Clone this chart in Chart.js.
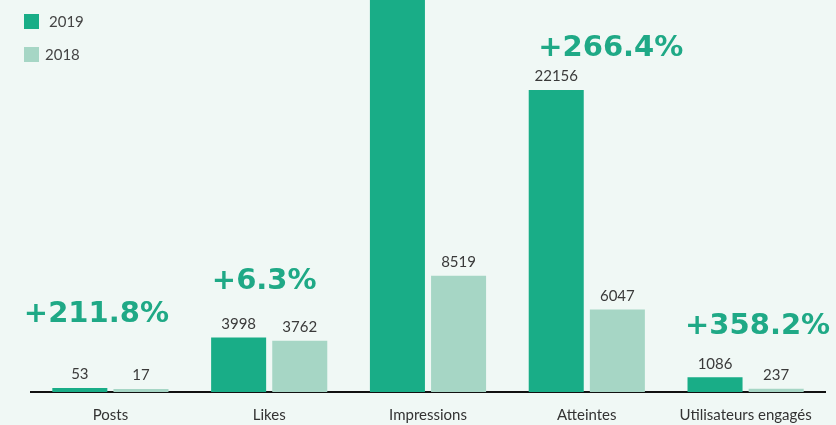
<!DOCTYPE html>
<html>
<head>
<meta charset="utf-8">
<script src="https://cdn.jsdelivr.net/npm/chart.js@4.4.1/dist/chart.umd.min.js"></script>
<style>
  html, body { margin: 0; padding: 0; background: #f0f8f5; }
  #wrap { position: relative; width: 836px; height: 425px; }
  .legend { position: absolute; left: 24px; font-family: Lato, sans-serif; font-size: 15px; color: #444; }
  .legend span.box { display: inline-block; width: 15px; height: 15px; vertical-align: middle; }
  .legend span.txt { vertical-align: middle; }
</style>
</head>
<body>
<div id="wrap">
  <canvas id="chart" width="836" height="425"></canvas>
  <div class="legend" style="top:10px"><span class="box" style="background:#19ad87"></span><span class="txt" style="margin-left:10px">2019</span></div>
  <div class="legend" style="top:43px"><span class="box" style="background:#a6d6c5"></span><span class="txt" style="margin-left:6px">2018</span></div>
</div>
<script>
// categories and values
var categories = ['Posts', 'Likes', 'Impressions', 'Atteintes', 'Utilisateurs engagés'];
var values2019 = [53, 3998, 31000, 22156, 1086];   // impressions 2019 is cut off at the top, estimated
var values2018 = [17, 3762, 8519, 6047, 237];
var growthLabels = ['+211.8%', '+6.3%', null, '+266.4%', '+358.2%'];

var DARK = '#19ad87';
var LIGHT = '#a6d6c5';

// value labels above each bar + growth % above each group
var labelsPlugin = {
    id: 'barLabels',
    afterDatasetsDraw: function(chart, args, opts) {
        var ctx = chart.ctx;
        var area = chart.chartArea;
        ctx.save();
        ctx.font = '15px Lato, sans-serif';
        ctx.fillStyle = '#3a3a3a';
        ctx.textAlign = 'center';
        ctx.textBaseline = 'bottom';
        chart.data.datasets.forEach(function(ds, i) {
            chart.getDatasetMeta(i).data.forEach(function(bar, j) {
                var y = bar.y - 6;
                if (y - 15 > area.top) ctx.fillText(ds.data[j], bar.x, y);
            });
        });

        ctx.font = 'bold 29px "DejaVu Sans", sans-serif';
        ctx.fillStyle = '#1fa986';
        ctx.textBaseline = 'middle';
        growthLabels.forEach(function(txt, j) {
            if (!txt) return;
            var b0 = chart.getDatasetMeta(0).data[j];
            var b1 = chart.getDatasetMeta(1).data[j];
            var nudge = opts.nudge[j] || [0, 0];
            var x = (b0.x + b1.x) / 2 + nudge[0];
            var y = Math.min(b0.y, b1.y) - 52 + nudge[1];
            ctx.fillText(txt, x, y);
        });
        ctx.restore();
    }
};

var ctx = document.getElementById('chart').getContext('2d');
var chart = new Chart(ctx, {
    type: 'bar',
    data: {
        labels: categories,
        datasets: [{
            label: '2019',
            data: values2019,
            backgroundColor: DARK,
            minBarLength: 4
        }, {
            label: '2018',
            data: values2018,
            backgroundColor: LIGHT,
            minBarLength: 3
        }]
    },
    options: {
        responsive: false,
        animation: false,
        categoryPercentage: 0.77,
        barPercentage: 0.9,
        layout: { padding: { left: 31, right: 11, top: 0, bottom: -13 } },
        plugins: {
            legend: { display: false },
            tooltip: { enabled: false },
            barLabels: { nudge: [[-14, -22], [-5, -4], [0, 0], [24, 11], [12, 1]] }
        },
        scales: {
            x: {
                grid: { display: false, drawTicks: false },
                border: { color: '#111', width: 2 },
                ticks: {
                    color: '#333',
                    padding: 14,
                    font: { family: 'Lato, sans-serif', size: 15 }
                }
            },
            y: {
                display: false,
                min: 0,
                max: 28750
            }
        }
    },
    plugins: [labelsPlugin]
});
</script>
</body>
</html>
